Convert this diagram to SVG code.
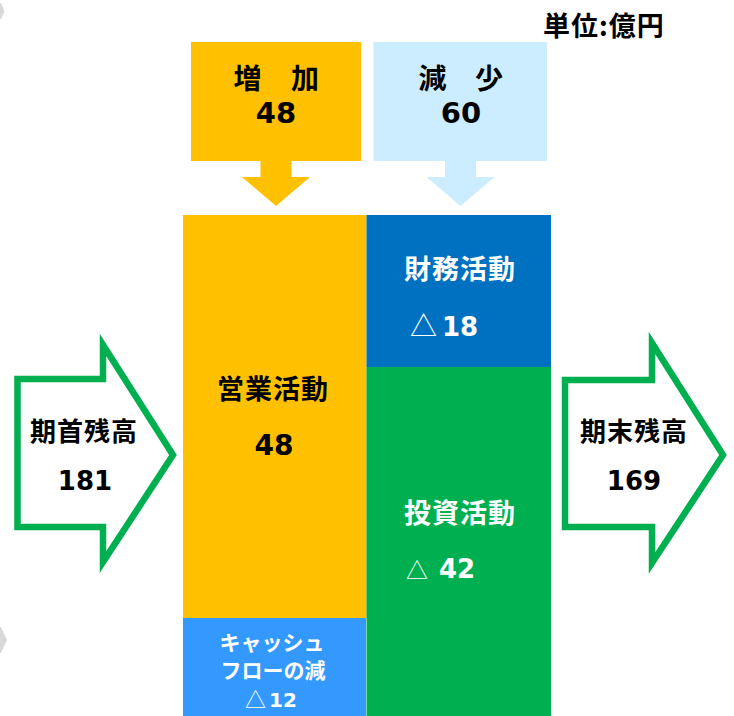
<svg xmlns="http://www.w3.org/2000/svg" width="734" height="716" viewBox="0 0 734 716">
<style>
.cjk{font-family:"Noto Sans CJK JP","Noto Sans",sans-serif;font-weight:bold;}
.num{font-family:"DejaVu Sans","Noto Sans CJK JP",sans-serif;font-weight:bold;}
.tri{font-family:"Noto Sans CJK JP",sans-serif;font-weight:normal;}
.blk{fill:#000;}
.wht{fill:#fff;}
.mid{text-anchor:middle;}
.arrow{fill:#fff;stroke:#00B050;stroke-width:6.5;stroke-linejoin:miter;}
</style>
<rect x="0" y="0" width="734" height="716" fill="#fff"/>
<g id="deco">
<polygon points="-10,3 1,3 4.5,11.5 1,19 -10,19" fill="#D9D9D9"/>
<polygon points="-10,627 1,627 7,640 1,653 -10,653" fill="#D9D9D9"/>
</g>
<g id="unit">
<text x="543" y="36" class="cjk blk" font-size="27" letter-spacing="1">単位:億円</text>
</g>
<g id="increase">
<rect x="191" y="42" width="170" height="119" fill="#FFC000"/>
<polygon points="260.5,160 291.5,160 291.5,177 310,177 276,206 242,177 260.5,177" fill="#FFC000"/>
<text y="89" class="cjk blk mid" font-size="28"><tspan x="247.5">増</tspan><tspan x="305">加</tspan></text>
<text x="276" y="123" class="num blk mid" font-size="29">48</text>
</g>
<g id="decrease">
<rect x="373.5" y="42" width="173.5" height="119" fill="#CCECFF"/>
<polygon points="445,160 476,160 476,177 494.5,177 460.5,206 426.5,177 445,177" fill="#CCECFF"/>
<text y="89" class="cjk blk mid" font-size="28"><tspan x="432.5">減</tspan><tspan x="489">少</tspan></text>
<text x="461" y="123" class="num blk mid" font-size="29">60</text>
</g>
<g id="operating">
<rect x="183" y="215" width="183.5" height="403" fill="#FFC000"/>
<text x="273" y="399" class="cjk blk mid" font-size="27" letter-spacing="1">営業活動</text>
<text x="274" y="455" class="num blk mid" font-size="28">48</text>
</g>
<g id="cfdecrease">
<rect x="183" y="618" width="183" height="98" fill="#3399FF"/>
<text x="272" y="650" class="cjk wht mid" font-size="21">キャッシュ</text>
<text x="273" y="678" class="cjk wht mid" font-size="21">フローの減</text>
<text y="707" class="num wht" font-size="20"><tspan x="245" class="tri" font-size="21">△</tspan><tspan x="269">12</tspan></text>
</g>
<g id="financing">
<rect x="366.5" y="215" width="184.5" height="152" fill="#0070C0"/>
<text x="460" y="279" class="cjk wht mid" font-size="27" letter-spacing="1">財務活動</text>
<text y="336" class="num wht" font-size="26"><tspan x="410" class="tri" font-size="27">△</tspan><tspan x="442">18</tspan></text>
</g>
<g id="investing">
<rect x="366.5" y="367" width="184.5" height="349" fill="#00B050"/>
<text x="460" y="523" class="cjk wht mid" font-size="27" letter-spacing="1">投資活動</text>
<text y="578" class="num wht" font-size="26"><tspan x="406" class="tri" font-size="22">△</tspan><tspan x="439">42</tspan></text>
</g>
<g id="opening">
<polygon class="arrow" points="17.5,379 103,379 103,345 173,455 103,562 103,527 17.5,527"/>
<text x="84" y="441" class="cjk blk mid" font-size="26" letter-spacing="1">期首残高</text>
<text x="85" y="490" class="num blk mid" font-size="26">181</text>
</g>
<g id="closing">
<polygon class="arrow" points="565,380 652,380 652,343 723,455 652,563 652,527 565,527"/>
<text x="634" y="441" class="cjk blk mid" font-size="26" letter-spacing="1">期末残高</text>
<text x="634" y="490" class="num blk mid" font-size="26">169</text>
</g>
<g id="connectors"></g>
</svg>
